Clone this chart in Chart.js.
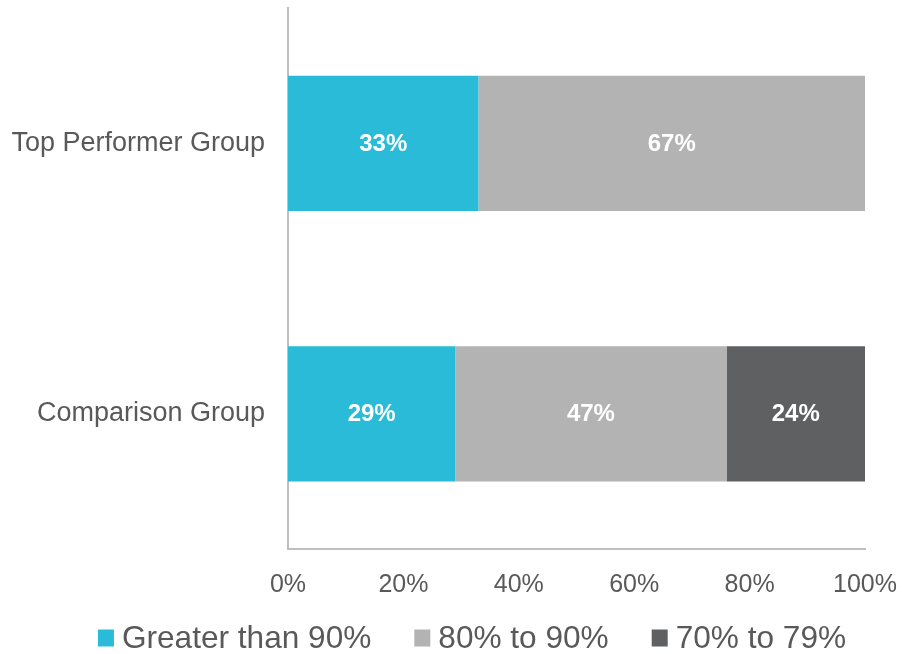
<!DOCTYPE html>
<html>
<head>
<meta charset="utf-8">
<script src="https://cdn.jsdelivr.net/npm/chart.js@4"></script>
<style>
  html, body { margin: 0; padding: 0; background: #fff; }
  #wrap { width: 903px; height: 654px; }
</style>
</head>
<body>
<div id="wrap"><canvas id="chart"></canvas></div>
<script>
// data
const groups = ["Top Performer Group", "Comparison Group"];
const greaterThan90 = [33, 29];
const from80to90 = [67, 47];
const from70to79 = [0, 24];
const xTicks = [0, 20, 40, 60, 80, 100];

const textColor = "#595959";
const axisColor = "#BFBFBF";
const fontFamily = "'Liberation Sans', Arial, sans-serif";

// draws the white % labels in the middle of each bar piece
const barLabels = {
  id: "barLabels",
  afterDatasetsDraw(chart) {
    const ctx = chart.ctx;
    ctx.save();
    ctx.fillStyle = "#ffffff";
    ctx.font = "bold 24px " + fontFamily;
    ctx.textAlign = "center";
    ctx.textBaseline = "middle";
    chart.data.datasets.forEach((ds, i) => {
      const meta = chart.getDatasetMeta(i);
      meta.data.forEach((bar, j) => {
        const v = ds.data[j];
        if (!v) return;
        const p = bar.getCenterPoint();
        ctx.fillText(v + "%", p.x, p.y + 1);
      });
    });
    ctx.restore();
  },
};

// legend drawn by hand so the spacing matches the original (one row, centred a bit right)
const bottomLegend = {
  id: "bottomLegend",
  afterDraw(chart) {
    const ctx = chart.ctx;
    const boxW = 16, boxH = 17, gap = 8, spacing = 43;
    const cx = 472, cy = 638;
    ctx.save();
    ctx.font = "31.6px " + fontFamily;
    ctx.textBaseline = "middle";
    const items = chart.data.datasets.map((ds) => ({
      text: ds.label,
      color: ds.backgroundColor,
      w: boxW + gap + ctx.measureText(ds.label).width,
    }));
    const total = items.reduce((s, it) => s + it.w, 0) + spacing * (items.length - 1);
    let x = cx - total / 2;
    items.forEach((it) => {
      ctx.fillStyle = it.color;
      ctx.fillRect(x, cy - boxH / 2, boxW, boxH);
      ctx.fillStyle = textColor;
      ctx.fillText(it.text, x + boxW + gap, cy + 1);
      x += it.w + spacing;
    });
    ctx.restore();
  },
};

new Chart(document.getElementById("chart"), {
  type: "bar",
  data: {
    labels: groups,
    datasets: [
      { label: "Greater than 90%", data: greaterThan90, backgroundColor: "#29BBD7" },
      { label: "80% to 90%", data: from80to90, backgroundColor: "#B3B3B3" },
      { label: "70% to 79%", data: from70to79, backgroundColor: "#5F6062" },
    ],
  },
  options: {
    indexAxis: "y",
    responsive: true,
    maintainAspectRatio: false,
    animation: false,
    barPercentage: 0.5,
    categoryPercentage: 1,
    layout: { padding: { left: 0, right: 38, top: 8, bottom: 41 } },
    scales: {
      x: {
        stacked: true,
        min: 0,
        max: 100,
        afterBuildTicks: (axis) => {
          axis.ticks = xTicks.map((v) => ({ value: v }));
        },
        afterFit: (axis) => {
          // no extra room for the end labels, the padding above handles it
          axis.paddingLeft = 0;
          axis.paddingRight = 0;
        },
        grid: { display: false },
        border: { display: true, color: axisColor, width: 2 },
        ticks: {
          color: textColor,
          padding: 13,
          font: { family: fontFamily, size: 25 },
          callback: (v) => v + "%",
        },
      },
      y: {
        stacked: true,
        grid: { display: false },
        border: { display: true, color: axisColor, width: 2 },
        afterFit: (axis) => {
          axis.width = 288;
          axis.paddingTop = 0;
          axis.paddingBottom = 0;
        },
        ticks: {
          color: textColor,
          padding: 15,
          font: { family: fontFamily, size: 27 },
        },
      },
    },
    plugins: {
      tooltip: { enabled: false },
      legend: { display: false },
    },
  },
  plugins: [barLabels, bottomLegend],
});
</script>
</body>
</html>
